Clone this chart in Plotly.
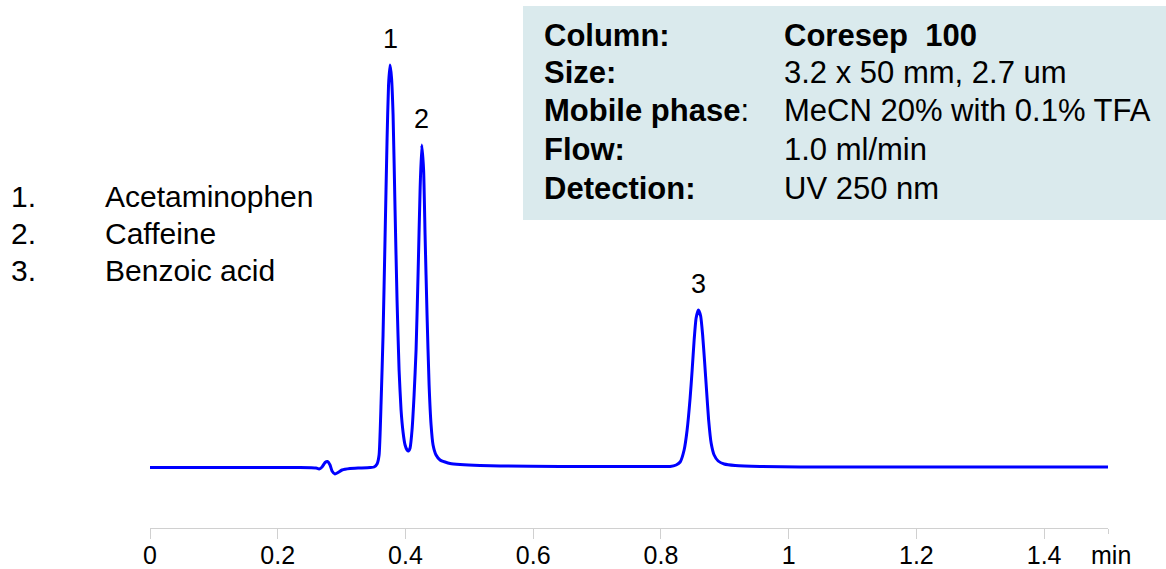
import plotly.graph_objects as go

# ---- data ----
time_min = [0.000, 0.2349, 0.2600, 0.2647, 0.2694, 0.2741, 0.2780, 0.2819, 0.2850, 0.2897,
            0.2944, 0.3007, 0.3132, 0.3289, 0.3446, 0.3508, 0.3555, 0.3587, 0.3618, 0.3649,
            0.3680, 0.3712, 0.3735, 0.3759, 0.3782, 0.3806, 0.3837, 0.3868, 0.3900, 0.3931,
            0.3962, 0.3994, 0.4025, 0.4049, 0.4072, 0.4103, 0.4135, 0.4166, 0.4197, 0.4229,
            0.4255, 0.4284, 0.4307, 0.4338, 0.4370, 0.4401, 0.4432, 0.4479, 0.4542, 0.4620,
            0.4699, 0.4855, 0.5168, 0.5482, 0.6421, 0.7361, 0.7987, 0.8144, 0.8238, 0.8301,
            0.8363, 0.8410, 0.8457, 0.8489, 0.8520, 0.8551, 0.8587, 0.8622, 0.8653, 0.8684,
            0.8716, 0.8747, 0.8786, 0.8833, 0.8896, 0.8990, 0.9162, 0.9554, 1.0180, 1.1746,
            1.3312, 1.5000]
signal = [-0.5, -0.5, -1, -2, 0, 4.5, 5.5, 2, -4, -7,
          -5.5, -3, -1.5, -1, -0.5, 0, 3, 12, 64, 132,
          228, 328, 382, 402, 389, 352, 257, 167, 97, 57,
          35, 22, 17, 16, 19, 37, 72, 117, 192, 277,
          322, 297, 232, 152, 82, 42, 22, 12, 7, 5,
          3.5, 2.5, 1.5, 1, 0.5, 0.5, 0.5, 0.5, 2, 5,
          17, 37, 69, 97, 127, 149, 157, 151, 132, 105,
          75, 47, 24, 12, 6, 3, 1.5, 0.5, 0, 0,
          0, 0]

peak_labels = ["1", "2", "3"]
peak_times = [0.3759, 0.4255, 0.8587]
peak_heights = [402, 322, 157]

tick_values = [0, 0.2, 0.4, 0.6, 0.8, 1.0, 1.2, 1.4]
tick_labels = ["0", "0.2", "0.4", "0.6", "0.8", "1", "1.2", "1.4"]
axis_unit = "min"

compound_numbers = ["1.", "2.", "3."]
compound_names = ["Acetaminophen", "Caffeine", "Benzoic acid"]

condition_labels = ["<b>Column:</b>", "<b>Size:</b>", "<b>Mobile phase</b>:", "<b>Flow:</b>", "<b>Detection:</b>"]
condition_values = ["<b>Coresep\u00a0\u00a0100</b>", "3.2 x 50 mm, 2.7 um", "MeCN 20% with 0.1% TFA",
                    "1.0 ml/min", "UV 250 nm"]

# ---- styling ----
FONT = "Liberation Sans, Arial, sans-serif"
W, H = 1166, 569
ML, MR, MT, MB = 150, 58, 0, 41
PW, PH = W - ML - MR, H - MT - MB


def px_x(p):
    return (p - ML) / PW


def px_y(p):
    return 1 - (p - MT) / PH


fig = go.Figure()
fig.add_trace(go.Scatter(x=time_min, y=signal, mode="lines",
                         line=dict(color="#0000ff", width=3, shape="spline", smoothing=0.5),
                         hoverinfo="skip", showlegend=False))

annotations = []
for lab, t, h in zip(peak_labels, peak_times, peak_heights):
    annotations.append(dict(x=t, y=h, xref="x", yref="y", text=lab, showarrow=False,
                            yanchor="bottom", yshift=9, font=dict(family=FONT, size=27, color="black")))

leg_y = [196.7, 233.7, 270.3]
for num, name, yy in zip(compound_numbers, compound_names, leg_y):
    annotations.append(dict(x=px_x(9), y=px_y(yy), xref="paper", yref="paper", text=num,
                            showarrow=False, xanchor="left", yanchor="middle",
                            font=dict(family=FONT, size=30, color="black")))
    annotations.append(dict(x=px_x(103), y=px_y(yy), xref="paper", yref="paper", text=name,
                            showarrow=False, xanchor="left", yanchor="middle",
                            font=dict(family=FONT, size=30, color="black")))

box_y = [36, 72.5, 111, 149, 188]
for lab, val, yy in zip(condition_labels, condition_values, box_y):
    annotations.append(dict(x=px_x(542), y=px_y(yy), xref="paper", yref="paper", text=lab,
                            showarrow=False, xanchor="left", yanchor="middle",
                            font=dict(family=FONT, size=31, color="black")))
    annotations.append(dict(x=px_x(782), y=px_y(yy), xref="paper", yref="paper", text=val,
                            showarrow=False, xanchor="left", yanchor="middle",
                            font=dict(family=FONT, size=31, color="black")))

annotations.append(dict(x=px_x(1111), y=px_y(555), xref="paper", yref="paper", text=axis_unit,
                        showarrow=False, xanchor="center", yanchor="middle",
                        font=dict(family=FONT, size=25, color="black")))

shapes = [dict(type="rect", xref="paper", yref="paper", x0=px_x(523), x1=px_x(1166),
               y0=px_y(220), y1=px_y(6), fillcolor="#daeaed", line=dict(width=0), layer="below")]

fig.update_layout(
    width=W, height=H,
    margin=dict(l=ML, r=MR, t=MT, b=MB, autoexpand=False),
    paper_bgcolor="white", plot_bgcolor="white",
    annotations=annotations, shapes=shapes,
    xaxis=dict(range=[0, 1.5], showgrid=False, zeroline=False, showline=True, automargin=False,
               linecolor="#d0d0d0", linewidth=1, ticks="outside", ticklen=10,
               tickcolor="#d0d0d0", tickwidth=1, tickmode="array",
               tickvals=tick_values, ticktext=tick_labels, ticklabelstandoff=-5,
               tickfont=dict(family=FONT, size=25, color="black"),
               minor=dict(tickmode="array", tickvals=[1.5], ticks="outside", ticklen=5,
                          tickcolor="#d0d0d0", tickwidth=1, showgrid=False)),
    yaxis=dict(range=[-61, 467], visible=False, showgrid=False, zeroline=False, automargin=False),
)

fig.write_html("out.html", config={"displayModeBar": False},
               post_script="document.body.style.margin='0';document.body.style.overflow='hidden';")
